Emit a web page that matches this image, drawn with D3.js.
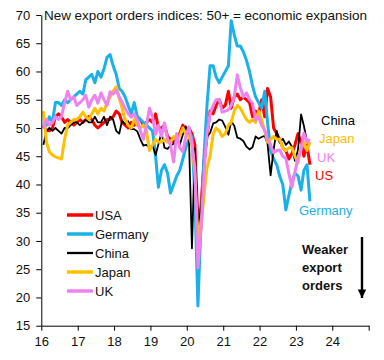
<!DOCTYPE html>
<html>
<head>
<meta charset="utf-8">
<script src="https://cdn.jsdelivr.net/npm/d3@7"></script>
<style>
  html, body { margin: 0; padding: 0; background: #fff; }
  svg { display: block; font-family: "Liberation Sans", Arial, sans-serif; }
</style>
</head>
<body>
<svg id="chart" width="384" height="360"></svg>
<script>
// ---- DATA (monthly, Jan 2016 – May 2023) ----
const months = d3.timeMonth.range(new Date(2016, 0, 1), new Date(2023, 5, 1));

const usa = [
  50.5, 49.5, 49.5, 50, 52, 52.5, 52, 51, 51.5, 51, 50.5, 51,
  51.5, 51, 51.5, 52, 51.5, 50.5, 50, 50.5, 51, 51.5, 51.5, 52,
  53, 52.5, 51, 50.5, 50, 51, 50.5, 52, 51.5, 50.5, 51, 51.5,
  51, 52.5, 50, 50, 50.5, 48.5, 48, 47.5, 48, 49, 50.5, 49.5,
  50, 49, 47, 33, 36, 44, 48.5, 53, 52.5, 54, 55, 53.5,
  54, 56.5, 53.5, 55.5, 56, 55, 55.5, 55, 54.5, 52, 53, 52.5,
  55, 52, 57, 55.5, 50, 49, 48, 46.5, 46, 44.5, 45.5, 47,
  49, 47.5, 45, 47, 43.5
];
const germany = [
  51, 50.5, 52, 51, 54.5, 54.5, 54, 55, 54.5, 55, 55.5, 56,
  56.5, 56, 58.5, 59, 59.5, 58, 60, 59, 60.5, 62.5, 63, 61,
  59.5, 57, 56.5, 55.5, 54, 52.5, 54.5, 52, 51.5, 51, 50.5, 50,
  49.5, 45, 39.5, 42.5, 43.5, 42, 38.5, 40, 41.5, 42.5, 44.5, 46.5,
  48, 48.5, 38, 18.5, 33, 45, 54, 61, 61, 59, 58, 59,
  60, 61, 69, 66.5, 64.5, 64.5, 63.5, 62, 60, 57.5, 55.5, 54.5,
  53.5, 56.5, 51, 46, 44.5, 43.5, 41.5, 40, 35.5, 38, 40.5, 42,
  41.5, 39, 42.5, 43.5, 37
];
const china = [
  47, 49.5, 50, 49.5, 50, 49.5, 49, 50, 50, 50.5, 51, 51,
  50.5, 51, 51.5, 51, 51, 52, 51, 51, 52, 50.5, 52, 51.5,
  49.5, 49, 51.3, 50.7, 51.2, 49.8, 49.8, 49.4, 48, 46.9, 47, 46.6,
  46.9, 45.2, 47.1, 49.2, 46.5, 46.3, 46.9, 47.2, 48.2, 47, 48.8, 50.3,
  48.7, 28.7, 46.4, 33.5, 35.3, 42.6, 48.4, 49.1, 50.8, 51, 51.5, 51.3,
  50.2, 48.8, 51.2, 50.4, 48.3, 48.1, 47.7, 46.7, 46.2, 46.6, 48.5, 48.1,
  48.4, 48.6, 47.2, 41.6, 46.2, 49.5, 47.4, 48.1, 47, 47.6, 46.7, 44.2,
  46.1, 52.4, 50.4, 47.6, 47.2
];
const japan = [
  53, 47.5, 45.8, 45.2, 44.9, 44.7, 44.5, 48, 50.5, 51, 51.5, 51.5,
  52, 52.8, 52, 51.5, 52.5, 53.5, 52.5, 53.5, 53, 54.5, 55.5, 56.5,
  57.3, 55.3, 53.5, 51.5, 50.5, 50, 51.5, 50.5, 50, 50.5, 49.5, 46,
  47, 48, 47.5, 47.5, 48, 47.5, 47.5, 48.5, 48, 48.5, 50, 49,
  48.5, 47, 42, 30.5, 32, 38, 43, 45, 49, 50, 49.5, 48.5,
  49, 50.5, 51, 53, 54, 53.5, 52.5, 51.5, 51, 51.5, 51, 53,
  51.5, 49.5, 47.5, 48, 48.5, 48, 48, 46.5, 46, 46.5, 46.5, 45,
  43.8, 47, 47.5, 46, 47.5
];
const uk = [
  50, 51.5, 50.5, 51, 52, 51.5, 52, 54.5, 56.5, 55, 55.5, 54,
  54.5, 55, 55.8, 53.7, 55, 55.8, 54.4, 56.2, 55, 54, 56.4, 56,
  56.7, 55.5, 54.6, 53.5, 52.5, 51.9, 52.5, 51.4, 49.5, 48, 50.5, 53.5,
  52, 48.9, 50.5, 48.5, 50.9, 48, 47, 44, 49, 46.5, 45.8, 48.5,
  50.2, 47.3, 43, 25.2, 32, 42, 49, 52.5, 54, 55, 55, 52.8,
  53, 53.2, 54, 55.5, 59.4, 57.1, 55.5, 56.2, 55, 54.4, 51.4, 52,
  50.5, 49.6, 48, 47, 45.6, 46, 46.1, 45, 44.6, 42, 39.5, 42.2,
  44.6, 46.1, 49.1, 47.5, 48
];

const seriesNames = ["USA", "Germany", "China", "Japan", "UK"];
const seriesValues = [usa, germany, china, japan, uk];
const seriesColors = ["#ff0000", "#1ab0e8", "#000000", "#ffc000", "#ee82ee"];
const seriesWidths = [3, 3, 1.8, 3, 3];

const endLabels = ["China", "Japan", "UK", "US", "Germany"];
const endLabelColors = ["#000000", "#ffc000", "#ee82ee", "#ff0000", "#1ab0e8"];

const yTicks = [15, 20, 25, 30, 35, 40, 45, 50, 55, 60, 65, 70];
const xYears = [2016, 2017, 2018, 2019, 2020, 2021, 2022, 2023, 2024, 2025];

const titleText = "New export orders indices: 50+ = economic expansion";
const noteLines = ["Weaker", "export", "orders"];

// ---- CHART ----
(function () {
const svg = d3.select("#chart");
const pLeft = 41.3, pRight = 368.7, pTop = 15, pBottom = 325.7;

const x = d3.scaleTime()
  .domain([new Date(2016, 0, 1), new Date(2025, 0, 1)])
  .range([pLeft, pRight]);
const y = d3.scaleLinear().domain([15, 70]).range([pBottom, pTop]);

const xPos = (d) => x(d3.timeDay.offset(d, 21));

const line = d3.line()
  .x((d, i) => xPos(months[i]))
  .y(d => y(d));

seriesValues.forEach((vals, si) => {
  svg.append("path")
    .datum(vals)
    .attr("fill", "none")
    .attr("stroke", seriesColors[si])
    .attr("stroke-width", seriesWidths[si])
    .attr("stroke-linejoin", "round")
    .attr("d", line);
});

const yAxis = d3.axisLeft(y).tickValues(yTicks).tickSize(5).tickSizeOuter(0).tickPadding(6);
const gy = svg.append("g").attr("transform", `translate(${pLeft},0)`).call(yAxis);
gy.selectAll("text").attr("font-size", 13).attr("fill", "#111")
  .attr("font-family", "Liberation Sans, Arial, sans-serif");
gy.selectAll("line, path").attr("stroke", "#000");

const xAxis = d3.axisBottom(x)
  .tickValues(xYears.map(yy => new Date(yy, 0, 1)))
  .tickFormat(d => d.getFullYear() === 2025 ? "" : d3.timeFormat("%y")(d))
  .tickSize(5).tickSizeOuter(0).tickPadding(6);
const gx = svg.append("g").attr("transform", `translate(0,${pBottom})`).call(xAxis);
gx.selectAll("text").attr("font-size", 13).attr("fill", "#111")
  .attr("font-family", "Liberation Sans, Arial, sans-serif");
gx.selectAll("line, path").attr("stroke", "#000");

svg.append("text")
  .attr("x", 44).attr("y", 20)
  .attr("font-size", 13.5).attr("fill", "#111")
  .attr("textLength", 323).attr("lengthAdjust", "spacing")
  .text(titleText);

const legY = [215, 234, 253, 272, 291];
seriesNames.forEach((name, i) => {
  svg.append("line")
    .attr("x1", 67).attr("x2", 93)
    .attr("y1", legY[i]).attr("y2", legY[i])
    .attr("stroke", seriesColors[i])
    .attr("stroke-width", seriesWidths[i] + 0.5);
  svg.append("text")
    .attr("x", 95).attr("y", legY[i] + 4.5)
    .attr("font-size", 13).attr("fill", "#111")
    .text(name);
});

const endPos = [[321, 125], [319, 143], [317, 162], [315, 180], [299, 215]];
endLabels.forEach((t, i) => {
  svg.append("text")
    .attr("x", endPos[i][0]).attr("y", endPos[i][1])
    .attr("font-size", 13).attr("fill", endLabelColors[i])
    .text(t);
});

noteLines.forEach((t, i) => {
  svg.append("text")
    .attr("x", 302).attr("y", 254 + i * 18)
    .attr("font-size", 13).attr("font-weight", "bold").attr("fill", "#111")
    .text(t);
});

svg.append("defs").append("marker")
  .attr("id", "ah").attr("viewBox", "0 0 10 10")
  .attr("refX", 10).attr("refY", 5)
  .attr("markerWidth", 4).attr("markerHeight", 3.5)
  .attr("markerUnits", "strokeWidth")
  .attr("orient", "auto")
  .append("path").attr("d", "M0,0 L10,5 L0,10 z").attr("fill", "#000");
svg.append("line")
  .attr("x1", 362).attr("x2", 362)
  .attr("y1", 237).attr("y2", 298)
  .attr("stroke", "#000").attr("stroke-width", 2.4)
  .attr("marker-end", "url(#ah)");
})();
</script>
</body>
</html>
